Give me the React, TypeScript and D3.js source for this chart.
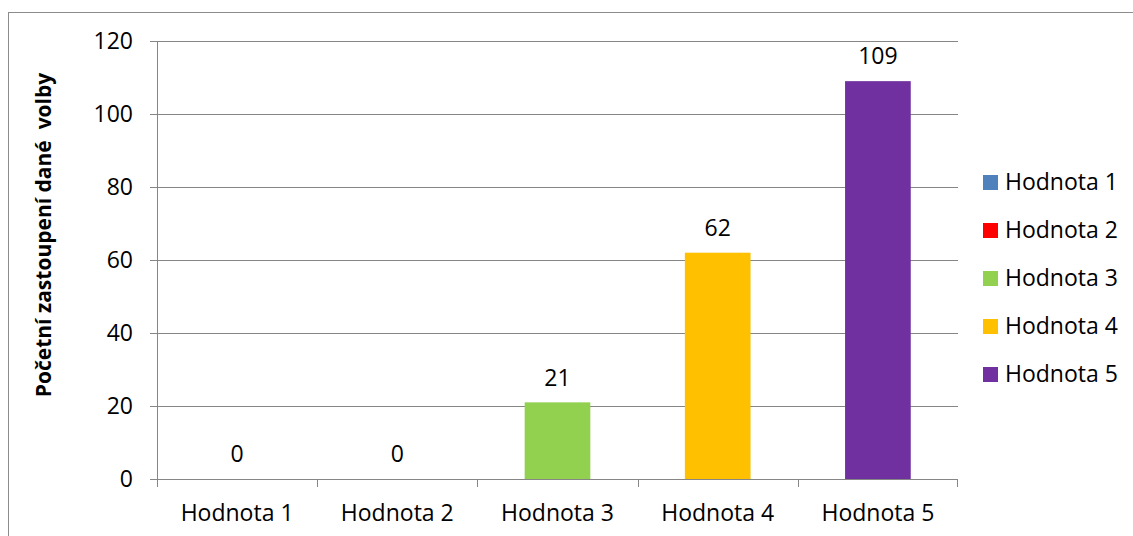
import React from "react";
import * as d3 from "d3";

const categories = ["Hodnota 1", "Hodnota 2", "Hodnota 3", "Hodnota 4", "Hodnota 5"];
const values = [0, 0, 21, 62, 109];
const colors = ["#4F81BD", "#FF0000", "#92D050", "#FFC000", "#7030A0"];
const yTicks = [0, 20, 40, 60, 80, 100, 120];
const yTitle = "Početní zastoupení dané  volby";

const W = 1133, H = 536;
const m = { left: 157, right: 958, top: 41, bottom: 479 };
const font = "'Open Sans', sans-serif";

export default function App() {
  const x = d3.scaleBand<string>().domain(categories).range([m.left, m.right]).paddingInner(0.59).paddingOuter(0.295);
  const xb = d3.scaleBand<string>().domain(categories).range([m.left, m.right]);
  const y = d3.scaleLinear().domain([0, 120]).range([m.bottom, m.top]);
  const grid = "#868686";
  const fs = 23;
  return (
    <svg width={W} height={H} style={{ position: "absolute", left: 0, top: 0 }}>
      <rect x={0} y={0} width={W} height={H} fill="#fff" />
      <rect x={8.5} y={12.5} width={1200} height={600} fill="none" stroke="#8c8c8c" strokeWidth={1} />
      {yTicks.map((t) => (
        <g key={t}>
          {t > 0 && <line x1={m.left} x2={m.right} y1={Math.round(y(t)) + 0.5} y2={Math.round(y(t)) + 0.5} stroke={grid} strokeWidth={1} />}
          <line x1={m.left - 7} x2={m.left} y1={Math.round(y(t)) + 0.5} y2={Math.round(y(t)) + 0.5} stroke={grid} />
          <text x={m.left - 24} y={y(t)} dy="0.36em" textAnchor="end" fontFamily={font} fontSize={fs} fill="#000">{t}</text>
        </g>
      ))}
      {categories.map((c, i) => (
        <rect key={c} x={x(c)} y={y(values[i])} width={x.bandwidth()} height={m.bottom - y(values[i])} fill={colors[i]} />
      ))}
      <line x1={m.left + 0.5} x2={m.left + 0.5} y1={m.top} y2={m.bottom} stroke={grid} />
      <line x1={m.left} x2={m.right} y1={m.bottom + 0.5} y2={m.bottom + 0.5} stroke={grid} />
      {categories.map((c) => (
        <line key={"t" + c} x1={Math.round(xb(c)!) + 0.5} x2={Math.round(xb(c)!) + 0.5} y1={m.bottom} y2={m.bottom + 8} stroke={grid} />
      ))}
      <line x1={m.right - 0.5} x2={m.right - 0.5} y1={m.bottom} y2={m.bottom + 8} stroke={grid} />
      {categories.map((c) => (
        <text key={"l" + c} x={xb(c)! + xb.bandwidth() / 2} y={513} dy="0.36em" textAnchor="middle" fontFamily={font} fontSize={fs} fill="#000">{c}</text>
      ))}
      {categories.map((c, i) => (
        <text key={"v" + c} x={x(c)! + x.bandwidth() / 2} y={y(values[i]) - 25} dy="0.36em" textAnchor="middle" fontFamily={font} fontSize={fs} fill="#000">{values[i]}</text>
      ))}
      <text transform={`translate(43,235) rotate(-90)`} dy="0.36em" textAnchor="middle" fontFamily={font} fontWeight="bold" fontSize={21} fill="#000" style={{ whiteSpace: "pre" }}>{yTitle}</text>
      {categories.map((c, i) => (
        <g key={"lg" + c} transform={`translate(983,${182 + i * 48})`}>
          <rect x={0} y={-7} width={15} height={15} fill={colors[i]} />
          <text x={22} y={0} dy="0.36em" fontFamily={font} fontSize={fs} fill="#000">{c}</text>
        </g>
      ))}
    </svg>
  );
}
